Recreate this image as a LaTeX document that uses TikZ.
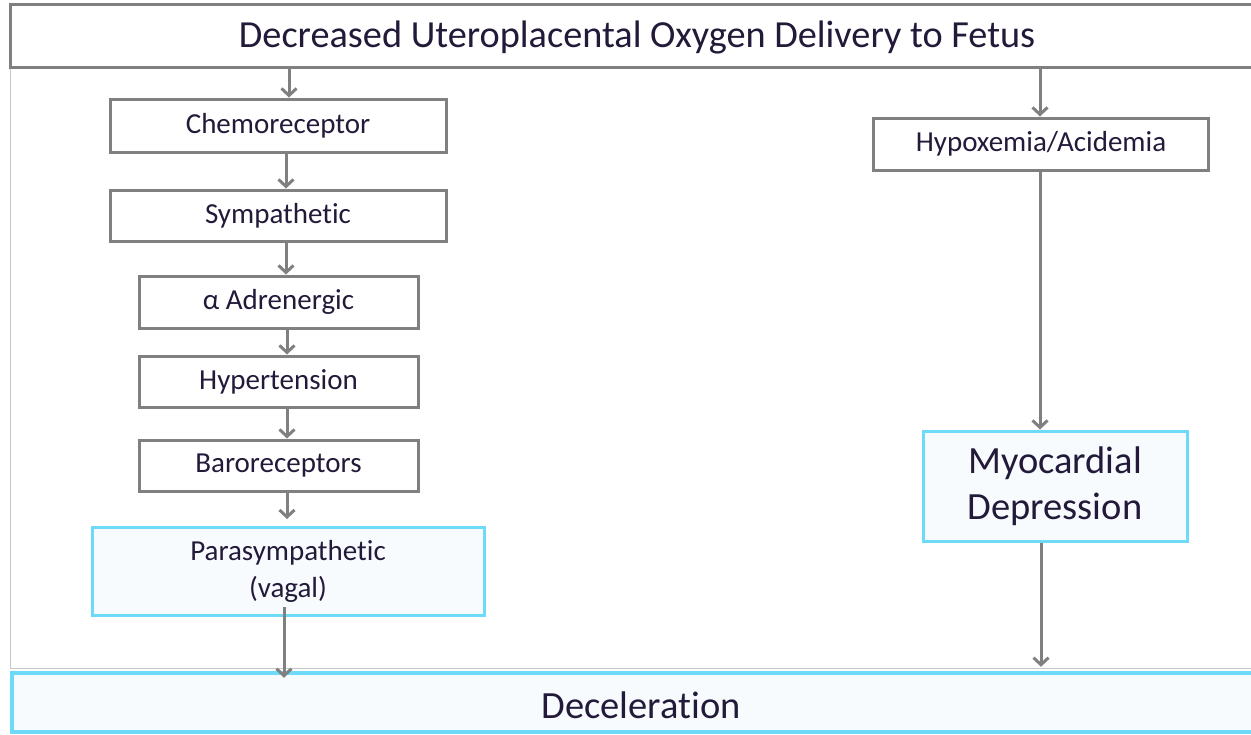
\documentclass[tikz,border=0pt]{standalone}
\usepackage{fontspec}
\setmainfont{Carlito}[Ligatures=NoCommon]
\usetikzlibrary{arrows.meta}
\definecolor{gline}{HTML}{808080}
\definecolor{cyanb}{HTML}{6DDAF7}
\definecolor{cfill}{HTML}{F7FBFE}
\definecolor{txt}{HTML}{231A3A}
\definecolor{frame}{HTML}{C8C8C8}
\tikzset{
  gbox/.style={draw=gline, line width=3pt, fill=white, text=txt, inner sep=0pt, font=\fontsize{29}{34}\selectfont},
  cbox/.style={draw=cyanb, line width=3pt, fill=cfill, text=txt, inner sep=0pt, align=center},
  arr/.style={draw=gline, line width=3pt, -{Straight Barb[length=7pt,width=15pt]}},
}
\begin{document}
\begin{tikzpicture}[x=1pt,y=-1pt]
\useasboundingbox (0,0) rectangle (1251,734);
% faint slide frame
\draw[frame, line width=0.8pt] (10,67) -- (10,668) -- (1260,668);
% nodes
\node[gbox, minimum width=1250pt, minimum height=63pt] (top) at (635,35.5) {};
\node[text=txt, font=\fontsize{38.3}{44}\selectfont] (title) at (637,37) {Decreased Uteroplacental Oxygen Delivery to Fetus};
\node[gbox, minimum width=336pt, minimum height=53pt] (chemo) at (278,125.5) {Chemoreceptor};
\node[gbox, minimum width=336pt, minimum height=51pt] (symp) at (278,215.5) {Sympathetic};
\node[gbox, minimum width=279pt, minimum height=52pt] (alpha) at (278.5,302) {α Adrenergic};
\node[gbox, minimum width=279pt, minimum height=51pt] (hyper) at (278.5,381.5) {Hypertension};
\node[gbox, minimum width=279pt, minimum height=51pt] (baro) at (278.5,465.5) {Baroreceptors};
\node[cbox, minimum width=392pt, minimum height=88pt, font=\fontsize{29}{37}\selectfont] (para) at (288,571.5) {Parasympathetic\\(vagal)};
\node[gbox, minimum width=335pt, minimum height=52pt] (hypox) at (1041,144) {Hypoxemia/Acidemia};
\node[cbox, minimum width=264pt, minimum height=110pt, font=\fontsize{38.5}{46}\selectfont] (myo) at (1055,486) {Myocardial\\Depression};
\node[cbox, line width=4.5pt, minimum width=1250pt, minimum height=59pt] (decel) at (637,702.5) {};
\node[text=txt, font=\fontsize{38.5}{44}\selectfont] (dtext) at (641,705) {Deceleration};
% connectors
\draw[arr] ([xshift=-346pt]top.south) -- ([xshift=11pt]chemo.north);
\draw[arr] ([xshift=8pt]chemo.south) -- ([xshift=8pt]symp.north);
\draw[arr] ([xshift=8pt]symp.south) -- ([xshift=7.5pt]alpha.north);
\draw[arr] ([xshift=8.5pt]alpha.south) -- ([xshift=8.5pt]hyper.north);
\draw[arr] ([xshift=8.5pt]hyper.south) -- ([xshift=8.5pt]baro.north);
\draw[arr] ([xshift=8.5pt]baro.south) -- ([xshift=-1pt,yshift=7pt]para.north);
\draw[arr] ([xshift=-4pt,yshift=10pt]para.south) -- ([xshift=-353pt,yshift=-7pt]decel.north);
\draw[arr] ([xshift=405pt]top.south) -- ([xshift=-1pt]hypox.north);
\draw[arr] ([xshift=-1pt]hypox.south) -- ([xshift=-15pt]myo.north);
\draw[arr] ([xshift=-14pt]myo.south) -- ([xshift=404pt,yshift=4pt]decel.north);
\end{tikzpicture}
\end{document}
